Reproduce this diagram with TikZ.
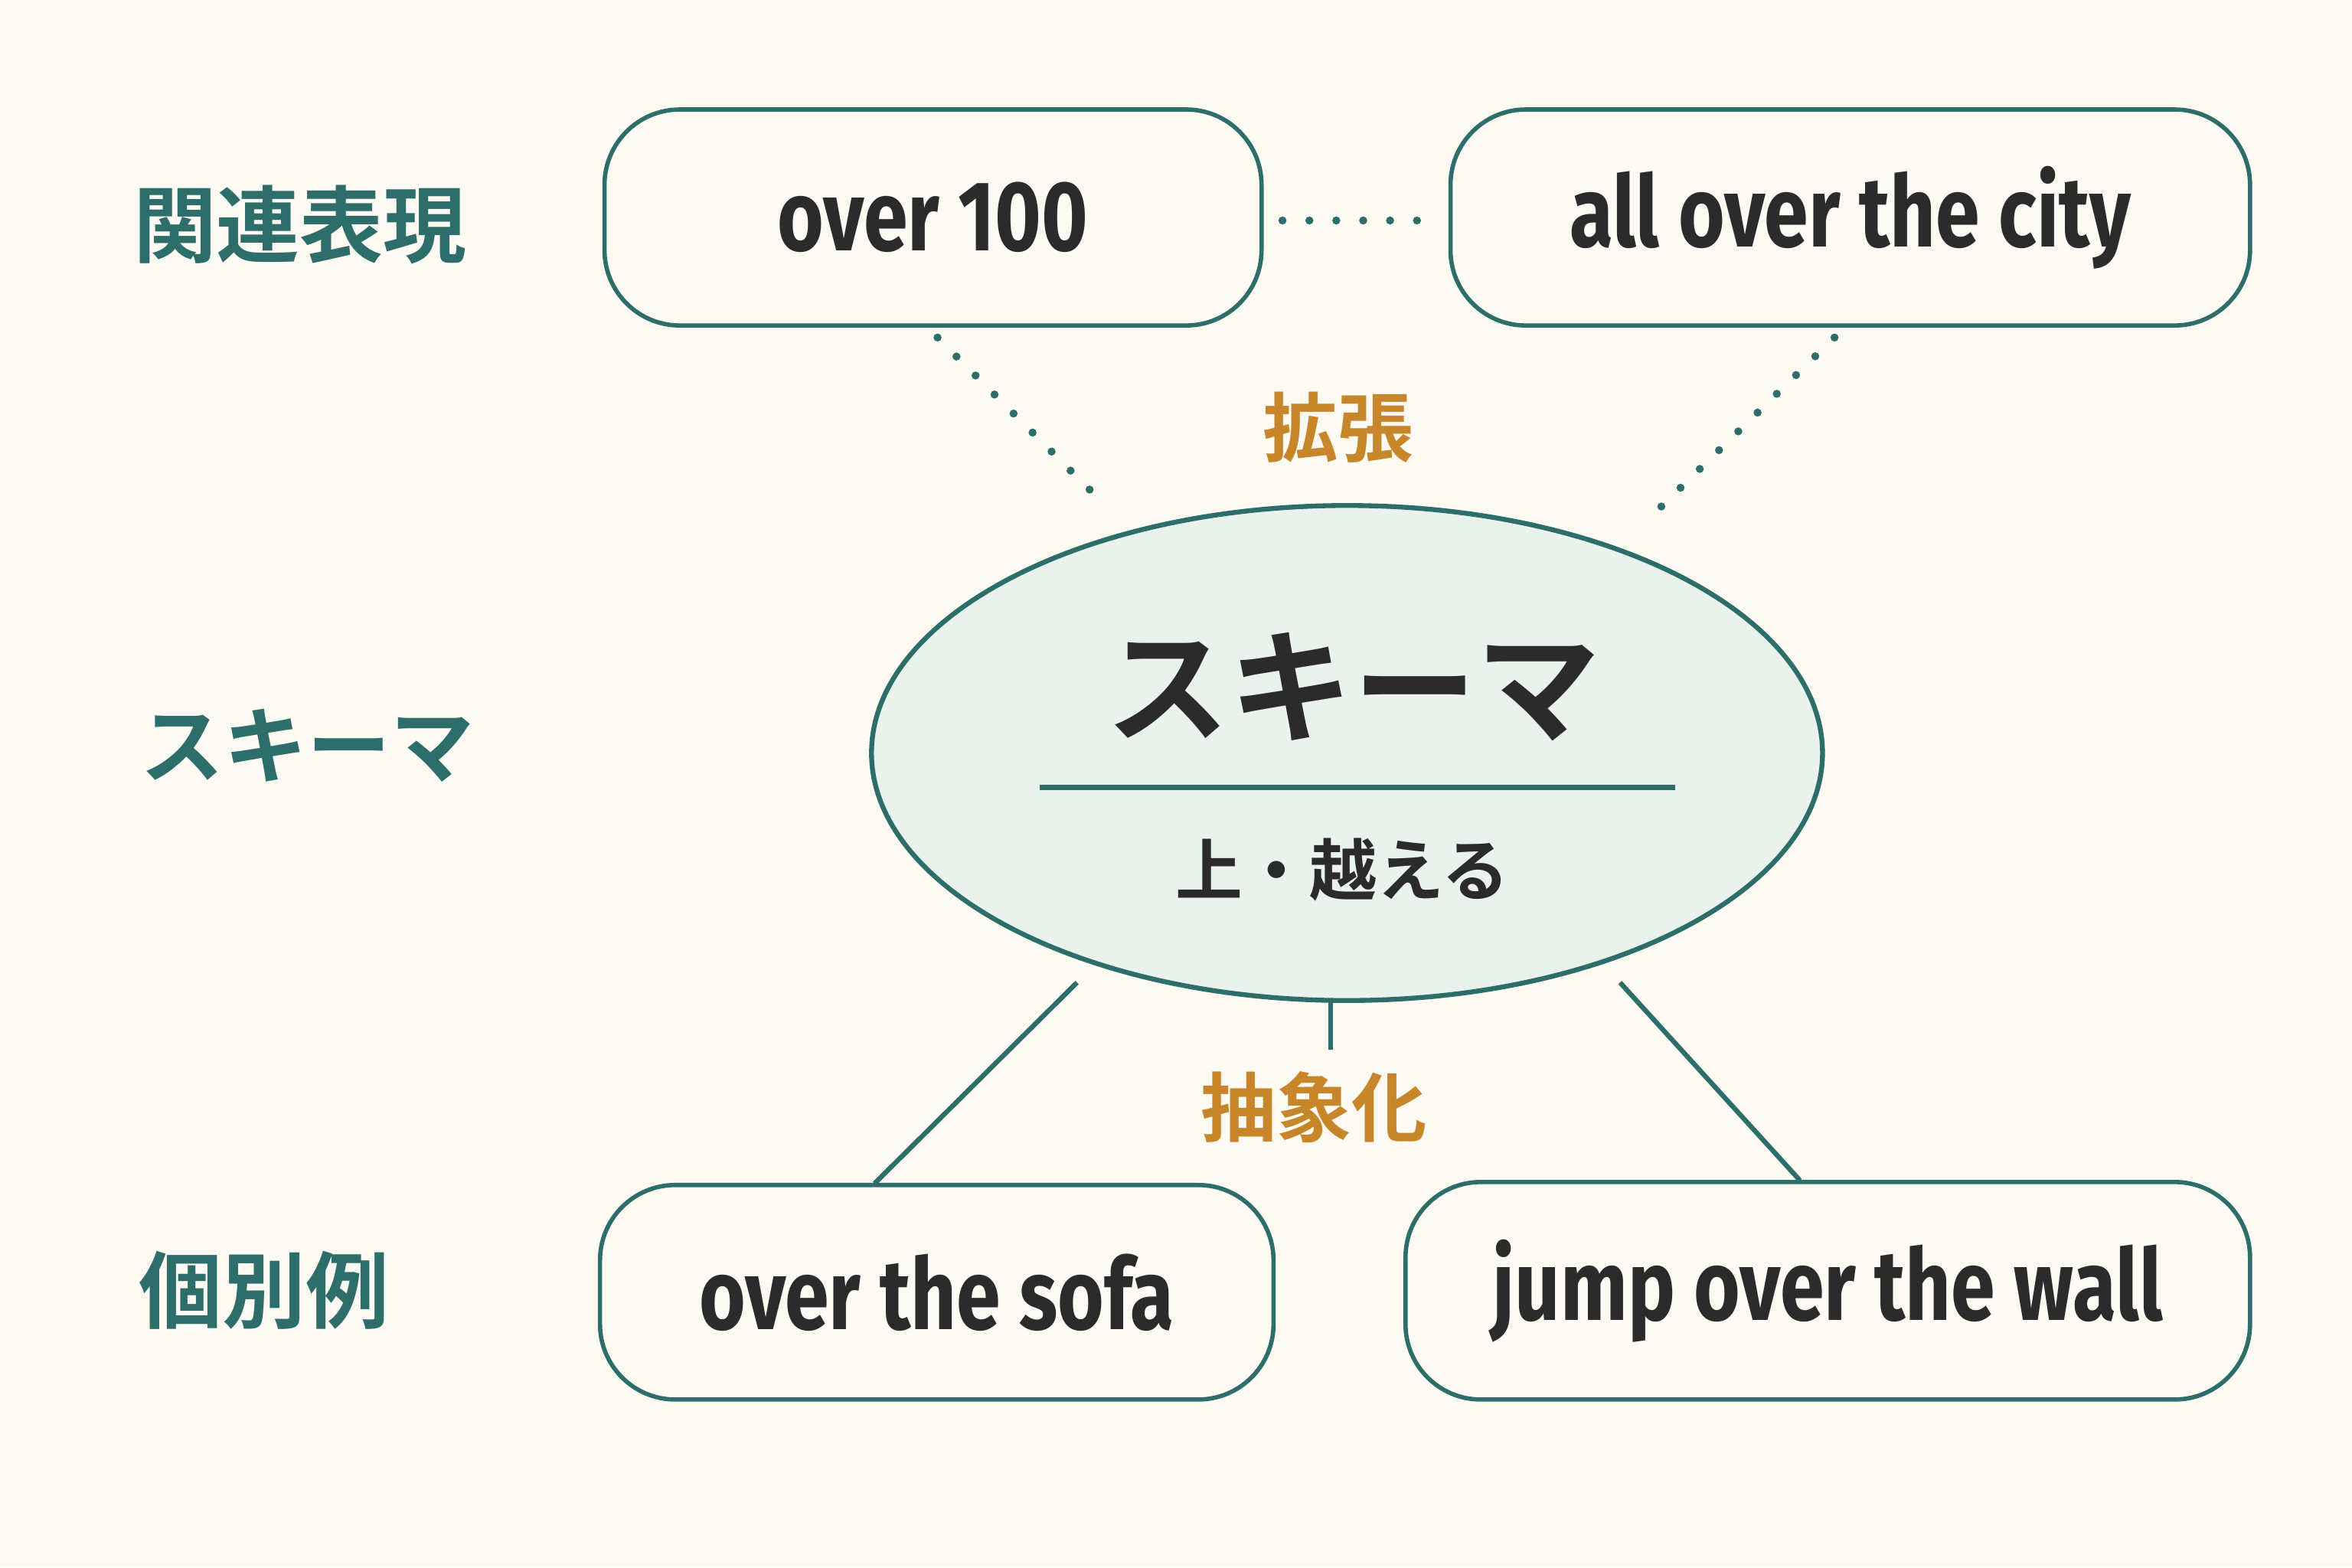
\documentclass[tikz,border=0pt]{standalone}
\usepackage{fontspec}
\usetikzlibrary{shapes.geometric}
\setmainfont{Fira Sans}
\newfontfamily\lat{Fira Sans}[FakeStretch=0.8]
\newfontfamily\cjk{Noto Sans CJK JP}[BoldFont={Noto Sans CJK JP Bold}]
\definecolor{bg}{HTML}{FCFAF3}
\definecolor{teal}{HTML}{2E6E6A}
\definecolor{ink}{HTML}{2B2B2B}
\definecolor{ora}{HTML}{C8862A}
\definecolor{efill}{HTML}{E9F2EC}
\begin{document}
\begin{tikzpicture}[x=0.0196cm,y=-0.0196cm,
  box/.style={draw=teal,line width=1.6pt,rounded corners=28pt,fill=bg,inner sep=0pt},
  ex/.style={font=\lat\bfseries\fontsize{37}{40}\selectfont\color{ink}},
  side/.style={font=\cjk\bfseries\fontsize{31}{34}\selectfont,text=teal},
  lab/.style={font=\cjk\bfseries\fontsize{28}{30}\selectfont,text=ora},
  dot/.style={teal,line width=3pt,line cap=round,dash pattern=on 0pt off 10pt},
  con/.style={teal,line width=1.8pt}]
\fill[bg] (0,0) rectangle (1568,1045);
\useasboundingbox (0,0) rectangle (1568,1045);
% side labels
\node[side] (s1) at (200,150) {関連表現};
\node[side] (s2) at (205,497) {スキーマ};
\node[side] (s3) at (176,860) {個別例};
% boxes
\node[box,minimum width=438*0.0196cm,minimum height=144*0.0196cm] (b1) at (622,145) {};
\node[ex] at (b1) {over 100};
\node[box,minimum width=533*0.0196cm,minimum height=144*0.0196cm] (b2) at (1233.5,145) {};
\node[ex] at (b2) {all over the city};
\node[box,minimum width=449*0.0196cm,minimum height=143*0.0196cm] (b3) at (624.5,861.5) {};
\node[ex] at (b3) {over the sofa};
\node[box,minimum width=563*0.0196cm,minimum height=145*0.0196cm] (b4) at (1218.5,860.5) {};
\node[ex] at (b4) {jump over the wall};
% ellipse
\node[ellipse,draw=teal,line width=1.8pt,fill=efill,minimum width=634*0.0196cm,minimum height=330*0.0196cm,inner sep=0pt] (e) at (898,502) {};
\node[font=\cjk\bfseries\fontsize{46}{48}\selectfont,text=ink] (t1) at (902,458) {スキーマ};
\coordinate (l1) at (693,525); \coordinate (l2) at (1117,525);
\draw[con] (l1) -- (l2);
\node[font=\cjk\fontsize{25}{28}\selectfont\bfseries,text=ink] (t2) at (895,580) {上・越える};
% dotted connectors
\coordinate (d1a) at (855,147); \coordinate (d1b) at (955,147);
\draw[dot] (d1a) -- (d1b);
\coordinate (d2a) at (625,225); \coordinate (d2b) at (737,337);
\draw[dot] (d2a) -- (d2b);
\coordinate (d3a) at (1223,225); \coordinate (d3b) at (1100,345);
\draw[dot] (d3a) -- (d3b);
\node[lab] (x1) at (892,285) {拡張};
% solid connectors
\coordinate (c1a) at (718,655); \coordinate (c1b) at (583,789);
\draw[con] (c1a) -- (c1b);
\coordinate (c2a) at (1080,655); \coordinate (c2b) at (1200,787);
\draw[con] (c2a) -- (c2b);
\coordinate (c3a) at (887,667); \coordinate (c3b) at (887,700);
\draw[con] (c3a) -- (c3b);
\node[lab] (x2) at (876,738) {抽象化};
\end{tikzpicture}
\end{document}
